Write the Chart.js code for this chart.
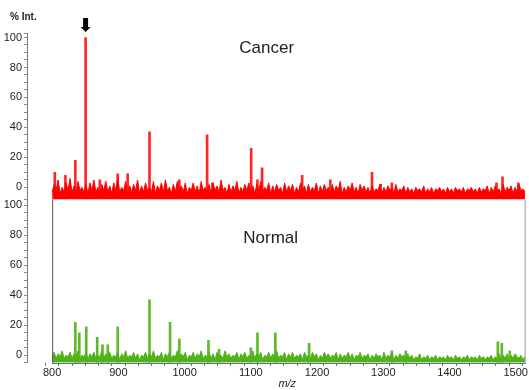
<!DOCTYPE html>
<html>
<head>
    <meta charset="utf-8" />
    <title>Cancer vs Normal spectrum</title>
    <script src="https://cdn.jsdelivr.net/npm/chart.js/dist/chart.umd.js"></script>
    <style>
        html, body { margin: 0; padding: 0; background: #fff; }
        #wrap { position: relative; width: 529px; height: 390px; }
    </style>
</head>
<body>
    <div id="wrap"><canvas id="specChart" width="529" height="390"></canvas></div>
    <script>
        // m/z axis
        var mzStart = 800, mzEnd = 1515, noiseStep = 3;
        var xTicks = [800, 820, 840, 860, 880, 900, 920, 940, 960, 980, 1000, 1020, 1040, 1060, 1080, 1100,
            1120, 1140, 1160, 1180, 1200, 1220, 1240, 1260, 1280, 1300, 1320, 1340, 1360, 1380, 1400,
            1420, 1440, 1460, 1480, 1500];
        var yTicks = [0, 5, 10, 15, 20, 25, 30, 35, 40, 45, 50, 55, 60, 65, 70, 75, 80, 85, 90, 95, 100];

        // cancer (red) - peaks [m/z, % int]
        var cancerPeakMz = [804, 820, 835, 850.5, 872, 899, 914, 947, 992, 1034, 1042, 1100.5, 1110, 1117,
            1177.5, 1220, 1283, 1296, 1313, 1471, 1480, 1504];
        var cancerPeakInt = [10, 8, 18, 100, 5, 9, 9, 37, 5, 35, 3, 26, 5, 13, 8, 5, 10, 2, 3, 3, 7, 3];
        var cancerBase = -8;
        // baseline noise, one reading every 3 m/z from 800
        var cancerNoise = [
            -3, 2, -2, 5, -4, 0, -3, 3, -2, 6,
            -3, 1, -4, 4, -2, 0, -3, 2, -4, 3,
            -2, 5, -3, 0, -4, 2, -2, 4, -3, 1,
            -4, 3, -2, 6, -3, 0, -2, 4, -4, 1,
            -3, 2, -2, 5, -4, 1, -3, 3, -2, 0,
            -3, 4, -4, 1, -2, 3, -3, 5, -2, 0,
            -4, 2, -3, 4, -2, 1, -3, 3, -4, 0,
            -2, 3, -3, 1, -4, 4, -2, 0, -3, 2,
            -4, 3, -2, 1, -3, 5, -2, 0, -4, 2,
            -3, 1, -2, 4, -4, 0, -3, 2, -2, 3,
            -3, 1, -4, 2, -2, 4, -3, 0, -2, 3,
            -4, 1, -3, 2, -2, 0, -4, 3, -3, 1,
            -2, 2, -4, 0, -3, 3, -2, 1, -4, 2,
            -3, 0, -2, 3, -4, 1, -3, 2, -2, 0,
            -4, 2, -3, 1, -2, 4, -4, 0, -3, 1,
            -2, 3, -3, 0, -4, 2, -2, 1, -3, 0,
            -4, 1, -3, -1, -2, 2, -4, 0, -3, 1,
            -2, 0, -4, 2, -3, -1, -2, 1, -4, 0,
            -3, -1, -4, 0, -2, -1, -3, 1, -4, -1,
            -3, 0, -4, -1, -2, 0, -3, -1, -4, 0,
            -3, -1, -4, 0, -2, -1, -3, 0, -4, -1,
            -2, 0, -3, -1, -4, 0, -3, -1, -2, 1,
            -4, 0, -3, 1, -2, -1, -4, 2, -3, 0,
            -2, 1, -4, 0, -3, 2, -2, -1, -3
        ];

        // normal (green)
        var normalPeakMz = [835, 841, 851.5, 868, 876, 884, 899, 947, 978, 992, 1036, 1052, 1100, 1110, 1137,
            1188, 1313, 1334, 1473, 1479, 1491];
        var normalPeakInt = [22, 15, 19, 12, 7, 7, 19, 37, 22, 11, 10, 4, 5, 15, 15, 8, 3, 3, 9, 8, 3];
        var normalBase = -5;
        var normalNoise = [
            -1, 2, -2, 1, -1, 3, -2, 0, -1, 2,
            -2, 1, -1, 3, -2, 0, -1, 2, -3, 1,
            -1, 2, -2, 0, -1, 3, -2, 1, -1, 2,
            -2, 0, -1, 2, -3, 1, -1, 3, -2, 0,
            -1, 2, -2, 1, -3, 0, -1, 2, -2, 1,
            -1, 3, -2, 0, -1, 2, -3, 1, -1, 2,
            -2, 0, -1, 3, -2, 1, -1, 2, -3, 0,
            -1, 2, -2, 1, -1, 3, -2, 0, -1, 2,
            -2, 1, -3, 2, -1, 0, -2, 3, -1, 1,
            -2, 0, -1, 2, -3, 1, -1, 2, -2, 0,
            -1, 3, -2, 1, -1, 2, -3, 0, -1, 2,
            -2, 1, -1, 3, -2, 0, -1, 2, -3, 1,
            -1, 2, -2, 0, -1, 1, -3, 2, -1, 0,
            -2, 2, -1, 1, -3, 0, -2, 2, -1, 1,
            -2, 0, -1, 2, -3, 1, -2, 0, -1, 2,
            -2, 1, -3, 0, -1, 2, -2, 0, -1, 1,
            -3, 0, -2, 1, -1, 0, -3, 2, -2, 0,
            -1, 2, -3, 0, -2, 1, -1, 0, -3, 1,
            -2, 0, -3, -1, -2, 1, -3, -1, -2, 0,
            -3, -1, -2, 0, -3, -1, -2, -1, -3, 0,
            -2, -1, -3, 0, -2, -1, -3, -1, -2, 0,
            -3, -1, -2, -1, -3, 0, -2, -1, -3, -1,
            -2, 0, -3, -1, -2, 1, -3, 0, -2, 1,
            -3, 0, -2, 1, -1, -2, 0, -3, -1
        ];

        var arrowMz = 850.5;
        var FONT = '"Liberation Sans", Arial, sans-serif';

        function toPoints(mz, vals) {
            return mz.map(function (m, i) { return { x: m, y: vals[i] }; });
        }
        function noisePoints(vals) {
            return vals.map(function (v, i) { return { x: mzStart + i * noiseStep, y: v }; });
        }

        var decorations = {
            id: 'decorations',
            afterDatasetsDraw: function (chart) {
                var ctx = chart.ctx;
                var x = chart.scales.x, yT = chart.scales.yTop, yB = chart.scales.yBot;
                var left = x.getPixelForValue(mzStart);
                var right = chart.chartArea.right;
                ctx.save();
                // box of lower panel
                ctx.lineWidth = 1;
                ctx.strokeStyle = '#555';
                ctx.beginPath();
                ctx.moveTo(left + 0.5, yB.top);
                ctx.lineTo(left + 0.5, yB.bottom);
                ctx.stroke();
                ctx.strokeStyle = '#999';
                ctx.beginPath();
                ctx.moveTo(right - 0.5, yB.top);
                ctx.lineTo(right - 0.5, yB.bottom);
                ctx.stroke();
                ctx.strokeStyle = '#6b6b88';
                ctx.beginPath();
                ctx.moveTo(left, Math.round(yB.bottom) + 0.5);
                ctx.lineTo(right, Math.round(yB.bottom) + 0.5);
                ctx.stroke();

                // arrow over the marked peak
                var ax = x.getPixelForValue(arrowMz);
                var tip = yT.top - 1;
                ctx.fillStyle = '#000';
                ctx.fillRect(ax - 2.5, tip - 14, 5, 9);
                ctx.beginPath();
                ctx.moveTo(ax - 5, tip - 5);
                ctx.lineTo(ax + 5, tip - 5);
                ctx.lineTo(ax, tip);
                ctx.closePath();
                ctx.fill();

                // texts
                ctx.fillStyle = '#222';
                ctx.textBaseline = 'middle';
                ctx.textAlign = 'left';
                ctx.font = 'bold 10px ' + FONT;
                ctx.fillText('% Int.', 10, 17);
                ctx.textAlign = 'center';
                ctx.font = '17px ' + FONT;
                ctx.fillText('Cancer', x.getPixelForValue(1124), yT.getPixelForValue(93));
                ctx.fillText('Normal', x.getPixelForValue(1130), yB.getPixelForValue(78));
                ctx.font = 'italic 11px ' + FONT;
                ctx.fillText('m/z', x.getPixelForValue(1155), 384);
                ctx.restore();
            }
        };

        function yAxis(min, max, weight) {
            return {
                type: 'linear',
                position: 'left',
                stack: 'panels',
                stackWeight: max - min,
                weight: weight,
                min: min,
                max: max,
                afterFit: function (s) { s.width = 27; },
                afterBuildTicks: function (s) {
                    s.ticks = [min].concat(yTicks, [max]).map(function (v) { return { value: v }; });
                },
                ticks: {
                    autoSkip: false,
                    padding: 2,
                    color: '#222',
                    font: { family: FONT, size: 11 },
                    callback: function (v) { return (v >= 0 && v % 20 === 0) ? v : ''; }
                },
                grid: { drawOnChartArea: false, drawTicks: true, tickLength: 3, color: '#888' },
                border: { display: true, color: '#777' }
            };
        }

        var red = '#ff0000';
        var green = '#4fb319';

        new Chart(document.getElementById('specChart'), {
            type: 'line',
            data: {
                datasets: [{
                    label: 'Cancer noise',
                    data: noisePoints(cancerNoise),
                    yAxisID: 'yTop',
                    borderColor: red,
                    backgroundColor: red,
                    borderWidth: 1,
                    pointRadius: 0,
                    fill: { value: cancerBase }
                }, {
                    type: 'bar',
                    label: 'Cancer peaks',
                    data: toPoints(cancerPeakMz, cancerPeakInt),
                    yAxisID: 'yTop',
                    base: cancerBase,
                    backgroundColor: 'rgba(255,20,20,0.92)',
                    barThickness: 2,
                    grouped: false
                }, {
                    label: 'Normal noise',
                    data: noisePoints(normalNoise),
                    yAxisID: 'yBot',
                    borderColor: green,
                    backgroundColor: green,
                    borderWidth: 1,
                    pointRadius: 0,
                    fill: { value: normalBase }
                }, {
                    type: 'bar',
                    label: 'Normal peaks',
                    data: toPoints(normalPeakMz, normalPeakInt),
                    yAxisID: 'yBot',
                    base: normalBase,
                    backgroundColor: 'rgba(80,180,25,0.92)',
                    barThickness: 2,
                    grouped: false
                }]
            },
            options: {
                responsive: false,
                animation: false,
                layout: { padding: { top: 33, right: 2, bottom: 9, left: 0 } },
                plugins: { legend: { display: false }, tooltip: { enabled: false } },
                scales: {
                    x: {
                        type: 'linear',
                        offset: false,
                        min: mzStart - 38,
                        max: mzEnd,
                        afterBuildTicks: function (s) {
                            s.ticks = xTicks.map(function (v) { return { value: v }; });
                        },
                        ticks: {
                            autoSkip: false,
                            maxRotation: 0,
                            padding: 1,
                            color: '#222',
                            font: { family: FONT, size: 11 },
                            callback: function (v) { return v % 100 === 0 ? v : ''; }
                        },
                        grid: { drawOnChartArea: false, drawTicks: true, tickLength: 3, color: '#666' },
                        border: { display: false }
                    },
                    yTop: yAxis(cancerBase, 103, 2),
                    yBot: yAxis(normalBase, 104, 1)
                }
            },
            plugins: [decorations]
        });
    </script>
</body>
</html>
